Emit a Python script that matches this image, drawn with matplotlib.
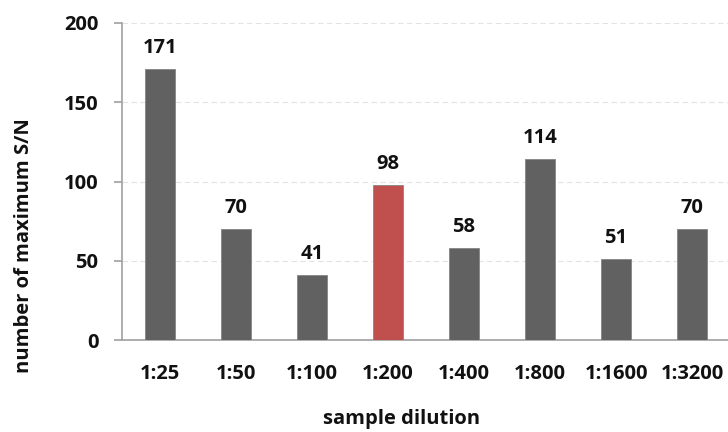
import matplotlib
matplotlib.use("Agg")
import matplotlib.pyplot as plt

dilutions = ["1:25", "1:50", "1:100", "1:200", "1:400", "1:800", "1:1600", "1:3200"]
max_sn_counts = [171, 70, 41, 98, 58, 114, 51, 70]
highlight = "1:200"

plt.rcParams["font.family"] = ["Open Sans", "DejaVu Sans"]
plt.rcParams["font.weight"] = "bold"
TXT = "#111111"
FS = 14.5

fig = plt.figure(figsize=(7.28, 4.32), dpi=100)
# plot area: left spine at x=122px, y=0 at 340px, y=200 at 23px
ax = fig.add_axes([122 / 728, 92 / 432, 608 / 728, 317 / 432])

colors = ["#C0504D" if d == highlight else "#616161" for d in dilutions]
x = list(range(len(dilutions)))
ax.bar(x, max_sn_counts, width=0.395, color=colors,
       edgecolor="#858585", linewidth=0.6, zorder=3)

for xi, v in zip(x, max_sn_counts):
    ax.annotate(str(v), (xi, v), xytext=(0, 11.5), textcoords="offset points",
                ha="center", va="baseline", fontsize=FS, fontweight="bold", color=TXT)

ax.set_xlim(-0.5, len(dilutions) - 0.5)
ax.set_ylim(0, 200)
ax.set_yticks([0, 50, 100, 150, 200])
ax.set_xticks(x)
ax.set_xticklabels(dilutions)
ax.tick_params(axis="x", length=0, pad=17, labelsize=FS, labelcolor=TXT)
ax.tick_params(axis="y", length=6, width=1.2, color="#a0a0a0", pad=11,
               labelsize=FS, labelcolor=TXT)
for lab in ax.get_xticklabels() + ax.get_yticklabels():
    lab.set_fontweight("bold")

ax.yaxis.grid(True, linestyle=(0, (5, 3)), color="#e2e2e2", linewidth=0.8, zorder=0)
ax.set_axisbelow(True)
for side in ["top", "right"]:
    ax.spines[side].set_visible(False)
for side in ["left", "bottom"]:
    ax.spines[side].set_color("#a0a0a0")
    ax.spines[side].set_linewidth(1.2)

fig.text(24 / 728, 1 - 246 / 432, "number of maximum S/N", rotation=90,
         ha="center", va="center", fontsize=14.5, fontweight="bold", color=TXT)
fig.text(402 / 728, 1 - 419 / 432, "sample dilution", ha="center", va="center",
         fontsize=14.5, fontweight="bold", color=TXT)

fig.savefig("out.png", dpi=100)
